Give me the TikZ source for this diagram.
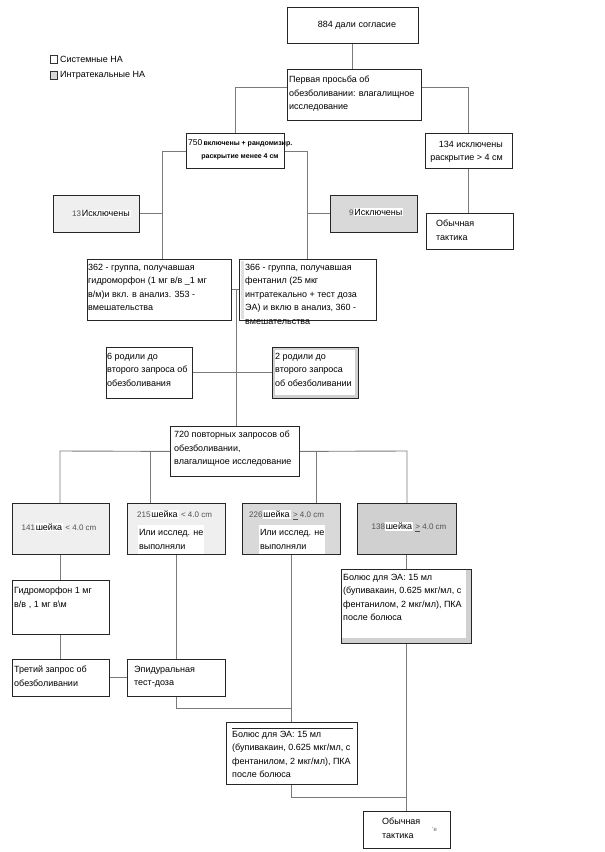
\documentclass[tikz,border=0pt]{standalone}
\usepackage{fontspec}
\setmainfont{Liberation Sans}
\usetikzlibrary{calc}
\definecolor{lightfill}{HTML}{EFEFEF}
\definecolor{midfill}{HTML}{D9D9D9}
\definecolor{darkfill}{HTML}{D0D0D0}
\definecolor{linegray}{HTML}{7A7A7A}
\definecolor{numgray}{HTML}{505050}
\newcommand{\whitepatch}[1]{{\setlength{\fboxsep}{0.8pt}\colorbox{white}{#1}}}
\newcommand{\smallnum}[1]{{\fontsize{8}{9}\selectfont\color{numgray}#1}}
\begin{document}
\begin{tikzpicture}[x=1pt,y=-1pt,
  box/.style={draw=black!85, line width=0.8pt, inner sep=0pt, anchor=north west, fill=white},
  conn/.style={draw=linegray, line width=0.9pt},
  txt/.style={inner sep=0pt, anchor=north west, align=left, font=\fontsize{9}{13.5}\selectfont},
  ctxt/.style={inner sep=0pt, anchor=center, align=center, font=\fontsize{9}{13.5}\selectfont}]
\useasboundingbox (0,0) rectangle (605,852);

% legend
\node[draw=black!80, fill=white, minimum width=7pt, minimum height=8pt, inner sep=0pt, anchor=north west] (lg1) at (50,55) {};
\node[txt, anchor=west] (lt1) at (60,59) {Системные НА};
\node[draw=black!80, fill=midfill, minimum width=7pt, minimum height=8pt, inner sep=0pt, anchor=north west] (lg2) at (50,71) {};
\node[txt, anchor=west] (lt2) at (60,75) {Интратекальные НА};

% boxes
\node[box, minimum width=131pt, minimum height=36pt] (agree) at (287,7) {};
\node[box, minimum width=134pt, minimum height=51pt] (first) at (287,69) {};
\node[box, minimum width=98pt, minimum height=35pt] (b750) at (186,133) {};
\node[box, minimum width=87pt, minimum height=35pt] (b134) at (425,133) {};
\node[box, fill=lightfill, minimum width=86pt, minimum height=37pt] (ex13) at (53,195) {};
\node[box, fill=midfill, minimum width=87pt, minimum height=37pt] (ex9) at (330,195) {};
\node[box, minimum width=87pt, minimum height=36pt] (usual1) at (426,213) {};
\node[box, minimum width=144pt, minimum height=61pt] (g362) at (87,259) {};
\node[box, minimum width=137pt, minimum height=61pt] (g366) at (239,259) {};
\fill[black!12] (240.5,260.5) rectangle (244,319);
\node[box, minimum width=86pt, minimum height=51pt] (b6) at (106,347) {};
\node[box, fill=darkfill, minimum width=86pt, minimum height=51pt] (b2) at (272,347) {};
\fill[white] (275,350) rectangle (355,395);
\node[box, minimum width=129pt, minimum height=50pt] (b720) at (170,426) {};
\node[box, fill=lightfill, minimum width=97pt, minimum height=51pt] (c141) at (12,503) {};
\node[box, fill=lightfill, minimum width=98pt, minimum height=51pt] (c215) at (127,503) {};
\node[box, fill=midfill, minimum width=98pt, minimum height=51pt] (c226) at (242,503) {};
\node[box, fill=darkfill, minimum width=99pt, minimum height=51pt] (c138) at (357,503) {};
\node[box, minimum width=97pt, minimum height=54pt] (hydro) at (12,580) {};
\node[box, fill=darkfill, minimum width=130pt, minimum height=74pt] (bolR) at (341,569) {};
\fill[white] (342,570) rectangle (466,638);
\node[box, minimum width=97pt, minimum height=37pt] (third) at (12,659) {};
\node[box, minimum width=98pt, minimum height=37pt] (epi) at (127,659) {};
\node[box, minimum width=131pt, minimum height=62pt] (bolB) at (226,722) {};
\draw[black!85, line width=0.8pt] (232,728) -- (353,728);
\node[box, minimum width=87pt, minimum height=37pt] (usual2) at (363,811) {};

% connectors
\coordinate (v1) at (162,151);
\coordinate (v2) at (307,151);
\coordinate (v3) at (236,289.5);
\coordinate (h1) at (60,451);
\coordinate (h2) at (150,451);
\coordinate (h3) at (316,451);
\coordinate (h4) at (407,451);
\coordinate (j1) at (291,708);
\coordinate (j2) at (407,797);

\draw[conn] (agree.south) -- (agree.south |- first.north);
\draw[conn] ($(first.north west)+(0,18)$) -| (b750.north);
\draw[conn] ($(first.north east)+(0,18)$) -| (b134.north);
\draw[conn] (b134.south) -- (b134.south |- usual1.north);
\draw[conn] ($(b750.north west)+(0,18)$) -- (v1) -- (v1 |- g362.north);
\draw[conn] (ex13.east) -- (ex13.east -| v1);
\draw[conn] ($(b750.north east)+(0,18)$) -- (v2) -- (v2 |- g366.north);
\draw[conn] (ex9.west) -- (ex9.west -| v2);
\draw[conn] (g362.east) -- (g362.east -| g366.west);
\draw[conn] (v3) -- (v3 |- b720.north);
\draw[conn] (b6.east) -- (b2.west);
\draw[conn] (b720.west) -- (h1) -- (h1 |- c141.north);
\draw[conn] (h2) -- (h2 |- c215.north);
\draw[conn] (b720.east) -- (h4) -- (h4 |- c138.north);
\draw[conn] (h3) -- (h3 |- c226.north);
\draw[conn] (c141.south) -- (hydro.north);
\draw[conn] (hydro.south) -- (third.north);
\draw[conn] (third.east) -- (epi.west);
\draw[conn] (c215.south) -- (epi.north);
\draw[conn] (epi.south) |- (j1);
\draw[conn] (c226.south) -- (c226.south |- bolB.north);
\draw[conn] (c138.south) -- (c138.south |- bolR.north);
\draw[conn] (bolR.south) -- (bolR.south |- usual2.north);
\draw[conn] (bolB.south) |- (j2);

% texts
\node[ctxt] (tagree) at (357,25) {884 дали согласие};
\node[txt] (tfirst) at (289,76) {Первая просьба об\\обезболивании: влагалищное\\исследование};
\node[txt] (t750a) at (188,139) {\fontsize{8.5}{10}\selectfont 750{\fontsize{7}{8}\selectfont\bfseries\,включены + рандомизир.}};
\node[ctxt] (t750b) at (240,157) {\fontsize{7}{8}\selectfont\bfseries раскрытие менее 4 см};
\node[txt, anchor=north east, align=right] (t134) at (503,141) {134 исключены\\раскрытие > 4 см};
\node[txt, anchor=west] (t13) at (72,213.5) {\smallnum{13}\whitepatch{Исключены}};
\node[txt, anchor=west] (t9) at (349,212) {\smallnum{9}\whitepatch{Исключены}};
\node[txt] (tusual1) at (436,220) {Обычная\\тактика};
\node[txt] (t362) at (88,264) {362 - группа, получавшая\\гидроморфон (1 мг в/в \_1 мг\\в/м)и вкл. в анализ. 353 -\\вмешательства};
\node[txt] (t366) at (245,264) {366 - группа, получавшая\\фентанил (25 мкг\\интратекально + тест доза\\ЭА) и вклю в анализ, 360 -\\вмешательства};
\node[txt] (t6) at (107,353) {6 родили до\\второго запроса об\\обезболивания};
\node[txt] (t2) at (275,353) {2 родили до\\второго запроса\\об обезболивании};
\node[txt] (t720) at (174,431) {720 повторных запросов об\\обезболивании,\\влагалищное исследование};
\node[ctxt] (t141) at (59,527) {\smallnum{141}\whitepatch{шейка}\ \smallnum{< 4.0 cm}};
\node[txt] (t215a) at (137,510) {\smallnum{215}\whitepatch{шейка}\ \smallnum{< 4.0 cm}};
\node[txt] (t215b) at (138,525) {\whitepatch{\begin{tabular}{@{}l@{}}Или исслед. не\\[0.5pt]выполняли\end{tabular}}};
\node[txt] (t226a) at (249,510) {\smallnum{226}\whitepatch{шейка}\ \smallnum{\underline{>} 4.0 cm}};
\node[txt] (t226b) at (259,525) {\whitepatch{\begin{tabular}{@{}l@{}}Или исслед. не\\[0.5pt]выполняли\end{tabular}}};
\node[ctxt] (t138) at (409,527) {\smallnum{138}\whitepatch{шейка}\ \smallnum{\underline{>} 4.0 cm}};
\node[txt] (thydro) at (14,587) {Гидроморфон 1 мг\\в/в , 1 мг в\textbackslash м};
\node[txt] (tbolR) at (343,574) {Болюс для ЭА: 15 мл\\(бупивакаин, 0.625 мкг/мл, с\\фентанилом, 2 мкг/мл), ПКА\\после болюса};
\node[txt] (tthird) at (14,666) {Третий запрос об\\обезболивании};
\node[txt] (tepi) at (134,666) {Эпидуральная\\тест-доза};
\node[txt] (tbolB) at (232,731) {Болюс для ЭА: 15 мл\\(бупивакаин, 0.625 мкг/мл, с\\фентанилом, 2 мкг/мл), ПКА\\после болюса};
\node[txt] (tusual2) at (382,818) {Обычная\\тактика};
\node[txt, anchor=west] (te) at (432,829) {\fontsize{6}{7}\selectfont\color{black!60}'е};
\end{tikzpicture}
\end{document}
